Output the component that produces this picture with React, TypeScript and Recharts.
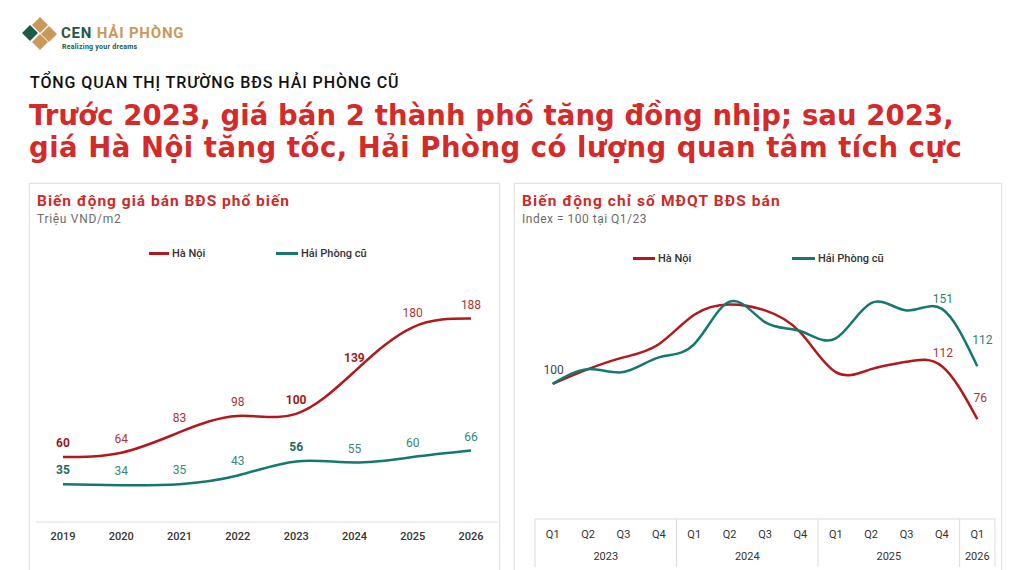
import React from 'react';
import { LineChart, Line, XAxis, YAxis, LabelList } from 'recharts';

// ---- data: average asking price (million VND/m2), by year
const YEARS = ['2019', '2020', '2021', '2022', '2023', '2024', '2025', '2026'];
const PRICE_HANOI = [60, 64, 83, 98, 100, 139, 180, 188];
const PRICE_HAIPHONG = [35, 34, 35, 43, 56, 55, 60, 66];

// ---- data: interest index (Index = 100 at Q1/23), by quarter
const QUARTERS = ['Q1', 'Q2', 'Q3', 'Q4', 'Q1', 'Q2', 'Q3', 'Q4', 'Q1', 'Q2', 'Q3', 'Q4', 'Q1'];
const QUARTER_YEARS = ['2023', '2023', '2023', '2023', '2024', '2024', '2024', '2024', '2025', '2025', '2025', '2025', '2026'];
const INDEX_HANOI = [100, 110, 118, 127, 147, 154, 150, 135, 108, 110, 115, 112, 76];
const INDEX_HAIPHONG = [100, 110, 108, 118, 127, 156, 142, 136, 131, 155, 150, 151, 112];

const RED = '#b3191c';
const TEAL = '#15786f';
const TITLE_RED = '#d42a2a';
const FONT = 'Roboto, "Noto Sans", sans-serif';

const priceRows = YEARS.map((year, i) => ({ year, hn: PRICE_HANOI[i], hp: PRICE_HAIPHONG[i] }));
const indexRows = QUARTERS.map((q, i) => ({ q, year: QUARTER_YEARS[i], hn: INDEX_HANOI[i], hp: INDEX_HAIPHONG[i] }));

// which price labels are emphasised
const PRICE_BOLD_HN = [0, 4, 5];
const PRICE_BOLD_HP = [0, 4];

// label placement for the index chart (only a few points are labelled)
const INDEX_LABELS_HN: Record<number, { dx: number; dy: number; fill: string }> = {
  0: { dx: 1, dy: -14, fill: '#444' },
  11: { dx: 1, dy: -13, fill: '#a8343a' },
  12: { dx: 3, dy: -21, fill: '#a8343a' },
};
const INDEX_LABELS_HP: Record<number, { dx: number; dy: number; fill: string }> = {
  11: { dx: 1, dy: -10, fill: '#2f8178' },
  12: { dx: 5, dy: -26, fill: '#2f8178' },
};

const RIGHT_PLOT_W = 460;
const BAND = RIGHT_PLOT_W / QUARTERS.length;

const priceLabel = (bold: number[], normal: string, strong: string) => (props: any) => {
  const { x, y, value, index } = props;
  if (x === undefined || y === undefined) return null;
  const b = bold.includes(index);
  return (
    <text x={x} y={y - 14} textAnchor="middle" dominantBaseline="central" fontSize={12}
      fontWeight={b ? 700 : 400} fill={b ? strong : normal} fontFamily={FONT}>
      {value}
    </text>
  );
};

const indexLabel = (cfg: Record<number, { dx: number; dy: number; fill: string }>) => (props: any) => {
  const { x, y, value, index } = props;
  const c = cfg[index];
  if (!c || x === undefined || y === undefined) return null;
  return (
    <text x={x + c.dx} y={y + c.dy} textAnchor="middle" dominantBaseline="central" fontSize={12}
      fill={c.fill} fontFamily={FONT}>
      {value}
    </text>
  );
};

function QuarterTick(props: any) {
  const { x, y, payload, index } = props;
  const yr = QUARTER_YEARS[index];
  const first = index === 0 || QUARTER_YEARS[index - 1] !== yr;
  const last = index === QUARTERS.length - 1;
  const n = QUARTER_YEARS.filter((v) => v === yr).length;
  return (
    <g>
      <text x={x} y={y + 19} textAnchor="middle" fontSize={11} fill="#333" fontFamily={FONT}>{payload.value}</text>
      {first && <line x1={x - BAND / 2} x2={x - BAND / 2} y1={y} y2={y + 48} stroke="#dcdcdc" />}
      {first && (
        <text x={x + ((n - 1) * BAND) / 2} y={y + 41} textAnchor="middle" fontSize={11} fill="#333" fontFamily={FONT}>{yr}</text>
      )}
      {last && <line x1={x + BAND / 2} x2={x + BAND / 2} y1={y} y2={y + 48} stroke="#dcdcdc" />}
    </g>
  );
}

function LegendRow({ items, top }: { items: { name: string; color: string; left: number; w: number }[]; top: number }) {
  return (
    <>
      {items.map((it) => (
        <div key={it.name} style={{ position: 'absolute', left: it.left, top, display: 'flex', alignItems: 'center', fontSize: 11, fontWeight: 500, color: '#333', fontFamily: FONT }}>
          <span style={{ display: 'inline-block', width: it.w, height: 3, background: it.color, marginRight: 3 }} />
          {it.name}
        </div>
      ))}
    </>
  );
}

function Card({ left, width, title, subtitle, spacing, subSpacing }: { left: number; width: number; title: string; subtitle: string; spacing: number; subSpacing: number }) {
  return (
    <>
      <div style={{ position: 'absolute', left, top: 183, width, height: 420, boxSizing: 'border-box', border: '1px solid #e2e2e2', boxShadow: '0 0 3px rgba(0,0,0,0.06)', background: '#fff' }} />
      <div style={{ position: 'absolute', left: left + 8, top: 192, fontSize: 15.5, fontWeight: 700, color: '#cc2b2b', fontFamily: FONT, whiteSpace: 'nowrap', letterSpacing: spacing }}>{title}</div>
      <div style={{ position: 'absolute', left: left + 8, top: 212, fontSize: 12, color: '#6b6b6b', fontFamily: FONT, whiteSpace: 'nowrap', letterSpacing: subSpacing }}>{subtitle}</div>
    </>
  );
}

export default function App() {
  return (
    <div style={{ position: 'absolute', left: 0, top: 0, width: 1020, height: 570, overflow: 'hidden', background: '#fff', fontFamily: FONT }}>
      {/* logo */}
      <svg width={60} height={60} style={{ position: 'absolute', left: 0, top: 0 }}>
        <polygon points="30,25 38,33 30,41 22,33" fill="#1d5a48" />
        <polygon points="40,17 48,25 40,33 32,25" fill="#c9995c" />
        <polygon points="49,26 57,34 49,42 41,34" fill="#c9995c" />
        <polygon points="40,34 48,42 40,50 32,42" fill="#c9995c" />
      </svg>
      <div style={{ position: 'absolute', left: 61, top: 27.5, fontSize: 15, lineHeight: '11px', fontWeight: 700, whiteSpace: 'nowrap', letterSpacing: 0.8 }}>
        <span style={{ color: '#1d5a48' }}>CEN </span><span style={{ color: '#c9995c' }}>HẢI PHÒNG</span>
      </div>
      <div style={{ position: 'absolute', left: 62, top: 42.5, fontSize: 7, lineHeight: '8px', fontWeight: 700, color: '#1d5a48', whiteSpace: 'nowrap', letterSpacing: 0.25 }}>Realizing your dreams</div>

      {/* heading */}
      <div style={{ position: 'absolute', left: 30, top: 73, fontSize: 16, fontWeight: 500, color: '#111', whiteSpace: 'nowrap', letterSpacing: 0.9 }}>
        TỔNG QUAN THỊ TRƯỜNG BĐS HẢI PHÒNG CŨ
      </div>
      <div style={{ position: 'absolute', left: 29, top: 99, fontSize: 27.5, lineHeight: '32px', fontWeight: 700, color: TITLE_RED, fontFamily: '"DejaVu Sans", sans-serif', whiteSpace: 'nowrap' }}>
        <div style={{ letterSpacing: 0.1 }}>Trước 2023, giá bán 2 thành phố tăng đồng nhịp; sau 2023,</div>
        <div style={{ letterSpacing: 0.5 }}>giá Hà Nội tăng tốc, Hải Phòng có lượng quan tâm tích cực</div>
      </div>

      {/* left card */}
      <Card left={29} width={471} title="Biến động giá bán BĐS phổ biến" subtitle="Triệu VND/m2" spacing={1} subSpacing={0.7} />
      <LegendRow top={247} items={[
        { name: 'Hà Nội', color: RED, left: 149, w: 20 },
        { name: 'Hải Phòng cũ', color: TEAL, left: 276, w: 22 },
      ]} />
      <div style={{ position: 'absolute', left: 29, top: 183 }}>
        <LineChart width={470} height={387} data={priceRows} margin={{ top: 101, right: 1, left: 7, bottom: 18 }}>
          <XAxis dataKey="year" height={30} padding={{ left: 27, right: 27 }} interval={0}
            axisLine={{ stroke: '#dedede' }} tickLine={false} tickMargin={4}
            tick={{ fill: '#333', fontSize: 11, fontWeight: 500, fontFamily: FONT }} />
          <YAxis hide domain={[0, 220]} />
          <Line type="natural" dataKey="hn" stroke={RED} strokeWidth={2.5} dot={false} isAnimationActive={false}>
            <LabelList dataKey="hn" content={priceLabel(PRICE_BOLD_HN, '#a8343a', '#9c1c1f')} />
          </Line>
          <Line type="natural" dataKey="hp" stroke={TEAL} strokeWidth={2.5} dot={false} isAnimationActive={false}>
            <LabelList dataKey="hp" content={priceLabel(PRICE_BOLD_HP, '#3a857c', '#1c6b63')} />
          </Line>
        </LineChart>
      </div>

      {/* right card */}
      <Card left={514} width={488} title="Biến động chỉ số MĐQT BĐS bán" subtitle="Index = 100 tại Q1/23" spacing={1.1} subSpacing={0.5} />
      <LegendRow top={252} items={[
        { name: 'Hà Nội', color: RED, left: 633, w: 22 },
        { name: 'Hải Phòng cũ', color: TEAL, left: 792, w: 23 },
      ]} />
      <div style={{ position: 'absolute', left: 514, top: 183 }}>
        <LineChart width={488} height={387} data={indexRows} margin={{ top: 98, right: 7, left: 21, bottom: 6 }}>
          <XAxis dataKey="q" height={45} padding={{ left: BAND / 2, right: BAND / 2 }} interval={0}
            axisLine={{ stroke: '#dcdcdc' }} tickLine={false} tickSize={0} tickMargin={0}
            tick={<QuarterTick />} />
          <YAxis hide domain={[8, 170]} />
          <Line type="natural" dataKey="hn" stroke={RED} strokeWidth={2.5} dot={false} isAnimationActive={false}>
            <LabelList dataKey="hn" content={indexLabel(INDEX_LABELS_HN)} />
          </Line>
          <Line type="natural" dataKey="hp" stroke={TEAL} strokeWidth={2.5} dot={false} isAnimationActive={false}>
            <LabelList dataKey="hp" content={indexLabel(INDEX_LABELS_HP)} />
          </Line>
        </LineChart>
      </div>
    </div>
  );
}
